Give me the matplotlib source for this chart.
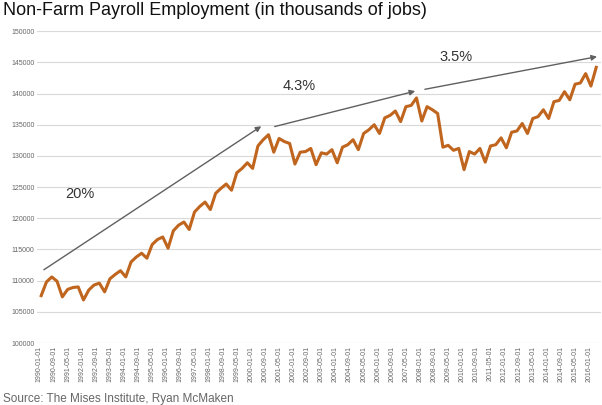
import matplotlib
matplotlib.use("Agg")
import matplotlib.pyplot as plt
import numpy as np

plt.rcParams['font.family'] = ['Liberation Sans', 'DejaVu Sans']

years = list(range(1990, 2017))
# quarterly readings (thousands of jobs): Feb, May, Aug, Nov
q_values = [
    [107.6, 109.8, 110.6, 109.9],
    [107.4, 108.6, 108.9, 109.0],
    [106.9, 108.5, 109.3, 109.6],
    [108.2, 110.3, 111.0, 111.6],
    [110.6, 113.0, 113.8, 114.4],
    [113.6, 115.8, 116.6, 117.0],
    [115.2, 118.0, 118.9, 119.4],
    [118.2, 121.0, 121.9, 122.6],
    [121.4, 124.0, 124.8, 125.5],
    [124.5, 127.3, 128.0, 128.9],
    [128.0, 131.6, 132.6, 133.4],
    [130.6, 132.8, 132.3, 132.0],
    [128.7, 130.6, 130.7, 131.2],
    [128.6, 130.5, 130.3, 131.0],
    [128.9, 131.4, 131.8, 132.6],
    [131.0, 133.6, 134.2, 135.0],
    [133.6, 136.1, 136.5, 137.2],
    [135.5, 137.9, 138.1, 139.3],
    [135.6, 137.9, 137.4, 136.8],
    [131.4, 131.7, 130.9, 131.2],
    [127.8, 130.7, 130.3, 131.2],
    [129.0, 131.6, 131.8, 132.9],
    [131.3, 133.8, 134.0, 135.2],
    [133.6, 136.0, 136.3, 137.4],
    [136.0, 138.7, 138.9, 140.3],
    [139.0, 141.5, 141.7, 143.2],
    [141.2, 144.2],
]
tick_labels = []
for k in range(40):
    m = k * 8
    y, mo = 1990 + m // 12, m % 12 + 1
    tick_labels.append(f"{y}-{mo:02d}-01")

arrows = [((1990.1, 111.5), (2000.6, 135.0)),
          ((2001.0, 134.6), (2007.9, 140.5)),
          ((2008.1, 140.6), (2016.5, 146.0))]
arrow_labels = [("20%", 1991.2, 123.3), ("4.3%", 2001.5, 140.5), ("3.5%", 2008.9, 145.2)]

xs, vals = [], []
for y, qs in zip(years, q_values):
    for i, v in enumerate(qs):
        xs.append(y + (1 + 3 * i) / 12)
        vals.append(v * 1000)

fig = plt.figure(figsize=(6.02, 4.05), dpi=100)
ax = fig.add_axes([0.062, 0.153, 0.936, 0.77])
ax.plot(xs, vals, color='#c0651e', lw=2.2, zorder=3)
for (x0, y0), (x1, y1) in arrows:
    ax.annotate('', xy=(x1, y1 * 1000), xytext=(x0, y0 * 1000),
                arrowprops=dict(arrowstyle='-|>', color='#606060', lw=1, mutation_scale=8), zorder=4)
for t, x, y in arrow_labels:
    ax.text(x, y * 1000, t, fontsize=10.5, color='#333333')
ax.set_ylim(100000, 150000)
ax.set_yticks(np.arange(100000, 150001, 5000))
ax.set_yticklabels([str(v) for v in range(100000, 150001, 5000)], fontsize=5, color='#666666')
tick_pos = [1990 + k * 8 / 12 for k in range(40)]
ax.set_xticks(tick_pos)
ax.set_xticklabels(tick_labels, rotation=90, fontsize=5, color='#666666')
ax.set_xlim(1989.9, 2016.55)
ax.grid(axis='y', color='#d9d9d9', lw=0.8)
ax.set_axisbelow(True)
for s in ax.spines.values():
    s.set_visible(False)
ax.tick_params(length=0, pad=2)
fig.text(0.005, 0.962, "Non-Farm Payroll Employment (in thousands of jobs)", fontsize=13, color='#111111')
fig.text(0.005, 0.008, "Source: The Mises Institute, Ryan McMaken", fontsize=8.5, color='#666666')
fig.savefig("out.png", dpi=100)
